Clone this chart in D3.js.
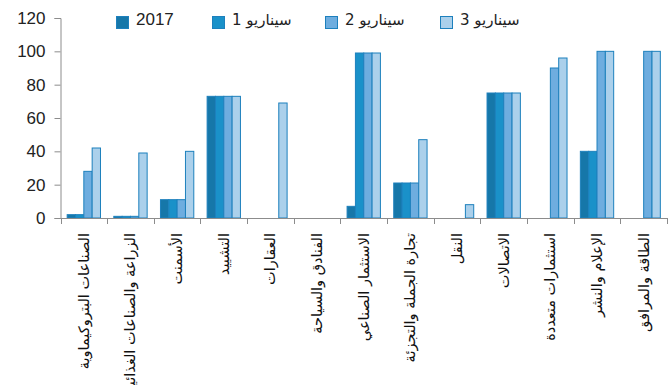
<!DOCTYPE html>
<html>
<head>
<meta charset="utf-8">
<script src="https://cdn.jsdelivr.net/npm/d3@7/dist/d3.min.js"></script>
<style>
  body { margin: 0; background: #fff; }
  svg { display: block; }
</style>
</head>
<body>
<svg id="chart" width="670" height="385"></svg>
<script>
const categories = [
  "الصناعات البتروكيماوية",
  "الزراعة والصناعات الغذائية",
  "الأسمنت",
  "التشييد",
  "العقارات",
  "الفنادق والسياحة",
  "الاستثمار الصناعي",
  "تجارة الجملة والتجزئة",
  "النقل",
  "الاتصالات",
  "استثمارات متعددة",
  "الإعلام والنشر",
  "الطاقة والمرافق"
];
const seriesNames = ["2017", "سيناريو 1", "سيناريو 2", "سيناريو 3"];
const values2017 = [2, 1, 11, 73, 0, 0, 7, 21, 0, 75, 0, 40, 0];
const valuesS1   = [2, 1, 11, 73, 0, 0, 99, 21, 0, 75, 0, 40, 0];
const valuesS2   = [28, 1, 11, 73, 0, 0, 99, 21, 0, 75, 90, 100, 100];
const valuesS3   = [42, 39, 40, 73, 69, 0, 99, 47, 8, 75, 96, 100, 100];
const yTicks = [0, 20, 40, 60, 80, 100, 120];
const colors = ["#1677a9", "#1a91c9", "#6eaddf", "#abd0eb"];

const allSeries = [values2017, valuesS1, valuesS2, valuesS3];
const svg = d3.select("#chart");
const mLeft = 60.5, mRight = 667, mTop = 18, mBottom = 218;

const x = d3.scaleBand().domain(categories).range([mLeft, mRight]).padding(0);
const xi = d3.scaleBand().domain(seriesNames).range([0, x.bandwidth()]).paddingInner(0).paddingOuter(0.8);
const y = d3.scaleLinear().domain([0, 120]).range([mBottom, mTop]);

const axisColor = "#8c8c8c";
const numFont = "'Liberation Sans Narrow', 'Liberation Sans', Arial, sans-serif";

// Bars
const data = [];
categories.forEach((c, i) => {
  seriesNames.forEach((s, j) => {
    data.push({ c, s, j, v: allSeries[j][i] });
  });
});
svg.append("g").selectAll("rect")
  .data(data.filter(d => d.v > 0))
  .join("rect")
  .attr("x", d => x(d.c) + xi(d.s))
  .attr("y", d => y(d.v))
  .attr("width", xi.bandwidth())
  .attr("height", d => y(0) - y(d.v))
  .attr("fill", d => colors[d.j])
  .attr("stroke", "#1d80bd")
  .attr("stroke-width", 1);

// Y axis
const yAxis = d3.axisLeft(y).tickValues(yTicks).tickSize(6).tickPadding(9);
const gy = svg.append("g").attr("transform", `translate(${mLeft},0)`).call(yAxis);
gy.select(".domain").attr("stroke", axisColor);
gy.selectAll(".tick line").attr("stroke", axisColor);
gy.selectAll(".tick text").attr("font-family", numFont).attr("font-size", 17).attr("fill", "#222");

// X axis (ticks at category boundaries)
const boundaries = categories.map(c => x(c)).concat([mRight]);
const gx = svg.append("g");
gx.append("line").attr("x1", mLeft).attr("x2", mRight).attr("y1", mBottom + 0.5).attr("y2", mBottom + 0.5).attr("stroke", axisColor);
gx.selectAll("line.tk").data(boundaries).join("line").attr("class", "tk")
  .attr("x1", d => Math.round(d) + 0.5).attr("x2", d => Math.round(d) + 0.5)
  .attr("y1", mBottom).attr("y2", mBottom + 6).attr("stroke", axisColor);
gx.selectAll("text").data(categories).join("text")
  .attr("transform", d => `translate(${x(d) + x.bandwidth() / 2 + 5},233) rotate(-90)`)
  .attr("text-anchor", "end")
  .attr("font-family", "'DejaVu Sans', sans-serif")
  .attr("font-size", 14.5)
  .attr("fill", "#111")
  .text(d => d);

// Legend
const legendX = [116, 212, 325, 440];
const lg = svg.append("g");
seriesNames.forEach((s, j) => {
  lg.append("rect").attr("x", legendX[j] + 0.5).attr("y", 16.5).attr("width", 12).attr("height", 12)
    .attr("fill", colors[j]).attr("stroke", "#1d80bd");
  lg.append("text").attr("x", legendX[j] + 20).attr("y", 25)
    .attr("font-family", j === 0 ? numFont : "'DejaVu Sans', sans-serif")
    .attr("font-size", j === 0 ? 17 : 15)
    .attr("fill", "#222")
    .text(s);
});
</script>
</body>
</html>
